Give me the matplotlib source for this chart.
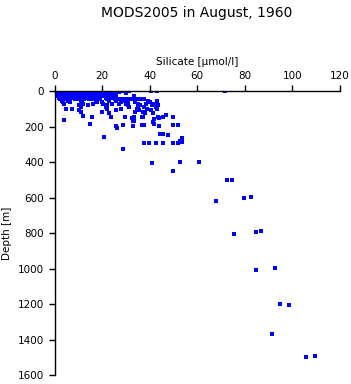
import matplotlib
matplotlib.use("Agg")
import matplotlib.pyplot as plt

title = "MODS2005 in August, 1960"
xlabel = "Silicate [\u00b5mol/l]"
ylabel = "Depth [m]"
xticks = [0, 20, 40, 60, 80, 100, 120]
yticks = [0, 200, 400, 600, 800, 1000, 1200, 1400, 1600]

# surface cluster, row by row (depth, silicate values)
rows = [
    (0, [2, 3.5, 5, 6, 7.5, 9, 10, 11.5, 13, 14, 15.5, 17, 18, 19.5, 21, 22, 23.5, 25, 26, 28, 29.5, 30.5, 31.5, 40.5, 43, 71.8]),
    (7, [1.5, 3, 4.5, 6, 7, 8.5, 10, 11, 12.5, 14, 15, 16.5, 18, 19, 20.5, 22, 23, 24.5, 26, 27]),
    (14, [2, 3.5, 5, 6.5, 8, 9, 10.5, 12, 13, 14.5, 16, 17, 18.5, 20, 21, 22.5, 24, 25.5, 30]),
    (21, [1, 2.5, 4, 5.5, 7, 8.5, 9.5, 11, 12.5, 13.5, 15, 16.5, 17.5, 19, 20.5, 22, 23.5, 25]),
    (29, [1.5, 3, 4.5, 6, 8, 9.5, 11, 12, 13.5, 15, 16.5, 18.5, 21, 22.5, 24, 26, 33.5]),
    (37, [2, 3.5, 5, 7, 9, 10.5, 12, 14, 15.5, 17, 18.5, 21.5, 23, 24.5]),
    (46, [2.5, 4, 6, 8.5, 10, 12.5, 14.5, 16, 19, 22, 25.5, 27, 28.5, 30, 31.5, 33, 34.5, 36, 37.5]),
    (56, [3, 5.5, 11, 17.5, 23, 26, 29, 39.5, 43]),
    (64, [3.5, 6.5, 11.5, 18, 20, 28, 31, 34, 40]),
    (72, [4, 12, 16, 20.5, 24, 27, 30, 35, 38.5, 42]),
    (80, [10.5, 14, 22, 31, 36, 41, 43.5]),
    (90, [11, 21.5, 31.5, 35, 37.5, 42.5]),
    (99, [5, 7.5, 22, 28, 34.5, 39, 43]),
    (108, [10.5, 26, 35.5, 40.5]),
    (116, [11, 20, 34, 37]),
    (126, [23, 38, 41.5]),
]

# deeper and scattered samples
deep_x = [4.1, 12.1, 15.9, 15.0, 23.9, 29.8, 33.5, 32.7, 37.3, 36.9, 32.9, 33.3,
          42.0, 41.3, 42.0, 43.6, 43.9, 26.0, 26.1, 28.9, 32.9, 36.6, 37.7,
          20.9, 37.7, 39.8, 42.8, 45.7, 49.9, 52.0, 28.9, 40.8, 49.9, 46.9,
          45.7, 49.9, 51.8, 44.3, 45.7, 47.8, 53.7, 52.9, 53.7, 52.9, 60.9,
          49.9, 72.6, 74.4, 67.9, 79.8, 82.7, 75.6, 84.8, 86.8, 84.8, 92.8,
          94.7, 98.7, 91.6, 105.7, 109.6, 43.9]
deep_d = [165, 139, 145, 188, 148, 148, 148, 152, 145, 148, 171, 167,
          160, 176, 186, 145, 195, 199, 207, 193, 195, 193, 193,
          257, 295, 295, 295, 295, 295, 295, 329, 408, 144, 135,
          148, 193, 193, 242, 242, 250, 266, 280, 290, 402, 402,
          451, 503, 503, 621, 605, 599, 806, 796, 791, 1008, 999,
          1200, 1206, 1367, 1501, 1493, 154]

silicate = []
depth = []
for d, xs in rows:
    for x in xs:
        silicate.append(x)
        depth.append(d)
silicate += deep_x
depth += deep_d

fig = plt.figure(figsize=(3.51, 3.84), dpi=100)
ax = fig.add_axes([0.1553, 0.0234, 0.8134, 0.7396])
ax.plot(silicate, depth, linestyle="none", marker="s", markersize=2.3,
        markeredgewidth=0, color="#0000ff")
ax.set_xlim(0, 120)
ax.set_ylim(1600, 0)
ax.xaxis.tick_top()
ax.xaxis.set_label_position("top")
ax.set_xticks(xticks)
ax.set_yticks(yticks)
for s in ["right", "bottom"]:
    ax.spines[s].set_visible(False)
for s in ["left", "top"]:
    ax.spines[s].set_linewidth(1.0)
ax.tick_params(axis="both", direction="out", length=4.5, width=1.0, labelsize=7.5, pad=3)
ax.set_xlabel(xlabel, fontsize=7.5, labelpad=4)
ax.set_ylabel(ylabel, fontsize=7.5, labelpad=4)
fig.text(0.56, 0.965, title, ha="center", va="center", fontsize=10)
fig.savefig("out.png", dpi=100)
